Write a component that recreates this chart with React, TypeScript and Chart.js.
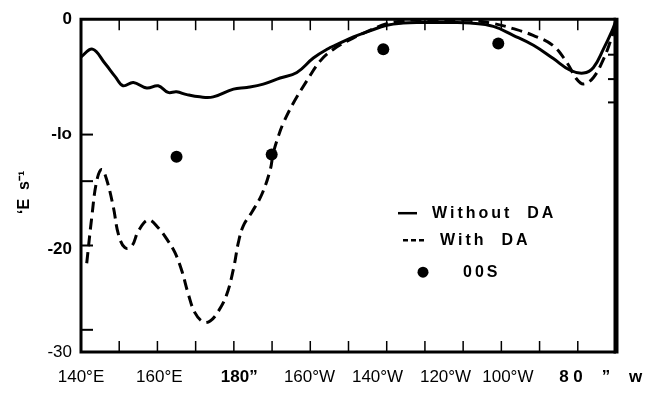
import React, { useEffect, useRef } from "react";
import { Chart, registerables } from "chart.js";

Chart.register(...registerables);

// Longitude in degrees east (140°E .. 280°E = 80°W), values in the y-axis units
const solidLon = [140, 143, 146.3, 149, 151, 153.7, 157.2, 160.2, 162.8, 165, 167.7, 171.1, 174.6, 179.9, 183.4, 187.7, 192.1, 196.5, 200.8, 205.2, 206.9, 211.3, 215.6, 220, 224.3, 228.7, 237.4, 241.8, 247.9, 253.1, 258.4, 263.6, 268, 271.5, 274.1, 276.7, 278.9, 280];
const solidVal = [-3.4, -2.7, -4.0, -5.2, -6.0, -5.7, -6.2, -6.0, -6.6, -6.55, -6.8, -7.0, -7.0, -6.3, -6.15, -5.85, -5.3, -4.8, -3.5, -2.55, -2.3, -1.6, -1.05, -0.55, -0.35, -0.3, -0.3, -0.35, -0.65, -1.45, -2.35, -3.55, -4.6, -4.85, -4.35, -2.7, -1.1, -0.1];

const dashedLon = [141.5, 142.8, 144.1, 145.4, 146.7, 148.5, 149.8, 151.5, 153.3, 155.0, 157.6, 160.2, 162.8, 164.6, 166.4, 168.1, 169.8, 172.0, 173.8, 175.9, 178.1, 179.9, 181.2, 182.5, 184.7, 187.3, 189.5, 190.3, 191.6, 192.9, 195.5, 199.1, 202.5, 205.9, 211.2, 215.6, 220, 224.3, 228.7, 241.8, 247.8, 253.1, 258.3, 263.5, 267.1, 269.7, 271.5, 274.1, 276.7, 278.4, 279.8];
const dashedVal = [-22.0, -17.9, -14.6, -13.55, -14.45, -17.0, -19.4, -20.6, -20.45, -19.1, -18.1, -18.8, -20.0, -21.05, -22.7, -24.8, -26.45, -27.3, -27.2, -26.35, -24.85, -22.5, -20.1, -18.6, -17.4, -15.8, -13.6, -12.1, -10.6, -9.4, -7.6, -5.55, -3.8, -2.75, -1.7, -1.0, -0.4, -0.15, -0.05, -0.1, -0.38, -0.85, -1.46, -2.37, -3.88, -5.39, -5.84, -5.25, -3.62, -2.13, -0.6];

const oosLon = [165.0, 189.9, 219.1, 249.2];
const oosVal = [-12.4, -12.2, -2.7, -2.2];

const xTickValues = [140, 160.5, 181.4, 199.8, 217.6, 235.4, 251.7, 276];
const xTickLabels = ["140°E", "160°E", "180”", "160°W", "140°W", "120°W", "100°W", "8 0    ”    w"];
const yTickValues = [0, -10.4, -20.7, -30];
const yTickLabels = ["0", "-lo", "-20", "-30"];
const frameTickLon = [150, 160, 170, 180, 190, 200, 210, 220, 230, 240, 250, 260, 270];
const leftTickVals = [-10.4, -14.6, -20.4, -28];
const rightTickVals = [-3.2, -5.4, -7.5];
const legendLabels = ["Without  DA", "With  DA", "00S"];
const yTitle = "‘E  s⁻¹   ";

const FONT = "'Liberation Sans', Arial, Helvetica, sans-serif";

const framePlugin = {
  id: "frame",
  afterDatasetsDraw(chart: any) {
    const { ctx, chartArea: a, scales } = chart;
    const x = scales.x;
    const y = scales.y;
    ctx.save();
    ctx.strokeStyle = "#000";
    ctx.lineCap = "butt";
    ctx.lineWidth = 1.5;
    frameTickLon.forEach((v) => {
      const px = x.getPixelForValue(v);
      ctx.beginPath();
      ctx.moveTo(px, a.bottom);
      ctx.lineTo(px, a.bottom - 11);
      ctx.moveTo(px, a.top);
      ctx.lineTo(px, a.top + 11);
      ctx.stroke();
    });
    ctx.lineWidth = 2;
    leftTickVals.forEach((v) => {
      const py = y.getPixelForValue(v);
      ctx.beginPath();
      ctx.moveTo(a.left, py);
      ctx.lineTo(a.left + 12, py);
      ctx.stroke();
    });
    rightTickVals.forEach((v) => {
      const py = y.getPixelForValue(v);
      ctx.beginPath();
      ctx.moveTo(a.right, py);
      ctx.lineTo(a.right - 8, py);
      ctx.stroke();
    });
    ctx.lineWidth = 3;
    ctx.beginPath();
    ctx.moveTo(a.left - 1.5, a.top);
    ctx.lineTo(a.right, a.top);
    ctx.moveTo(a.left - 1.5, a.bottom);
    ctx.lineTo(a.right, a.bottom);
    ctx.moveTo(a.left, a.top);
    ctx.lineTo(a.left, a.bottom);
    ctx.stroke();
    ctx.lineWidth = 5;
    ctx.beginPath();
    ctx.moveTo(a.right, a.top - 1.5);
    ctx.lineTo(a.right, a.bottom + 1.5);
    ctx.stroke();
    ctx.restore();
  },
};

const legendPlugin = {
  id: "insideLegend",
  afterDraw(chart: any) {
    const { ctx, chartArea: a } = chart;
    const lx = a.left + 316;
    const r1 = a.top + 194;
    const r2 = a.top + 221;
    const r3 = a.top + 253;
    ctx.save();
    ctx.strokeStyle = "#000";
    ctx.fillStyle = "#000";
    ctx.lineWidth = 2.5;
    ctx.beginPath();
    ctx.moveTo(lx + 1, r1);
    ctx.lineTo(lx + 20, r1);
    ctx.stroke();
    ctx.setLineDash([5, 3]);
    ctx.beginPath();
    ctx.moveTo(lx + 6, r2);
    ctx.lineTo(lx + 28, r2);
    ctx.stroke();
    ctx.setLineDash([]);
    ctx.beginPath();
    ctx.arc(lx + 26, r3, 5.5, 0, Math.PI * 2);
    ctx.fill();
    ctx.font = `bold 16px ${FONT}`;
    (ctx as any).letterSpacing = "3px";
    ctx.textBaseline = "middle";
    ctx.textAlign = "left";
    ctx.fillText(legendLabels[0], lx + 35, r1);
    ctx.fillText(legendLabels[1], lx + 43, r2);
    ctx.fillText(legendLabels[2], lx + 66, r3);
    ctx.restore();
  },
};

export default function App() {
  const ref = useRef<HTMLCanvasElement | null>(null);
  useEffect(() => {
    if (!ref.current) return;
    const chart = new Chart(ref.current, {
      type: "line",
      data: {
        datasets: [
          {
            label: legendLabels[0],
            data: solidLon.map((x, i) => ({ x, y: solidVal[i] })),
            borderColor: "#000",
            borderWidth: 3,
            pointRadius: 0,
            tension: 0.4,
            fill: false,
            clip: 6,
          },
          {
            label: legendLabels[1],
            data: dashedLon.map((x, i) => ({ x, y: dashedVal[i] })),
            borderColor: "#000",
            borderWidth: 3,
            borderDash: [11, 6],
            pointRadius: 0,
            tension: 0.4,
            fill: false,
            clip: 6,
          },
          {
            label: legendLabels[2],
            data: oosLon.map((x, i) => ({ x, y: oosVal[i] })),
            showLine: false,
            pointRadius: 6,
            pointBackgroundColor: "#000",
            pointBorderColor: "#000",
            pointBorderWidth: 0,
            clip: 8,
          },
        ],
      } as any,
      options: {
        animation: false,
        responsive: false,
        events: [],
        layout: { padding: { left: 0, top: 17, right: 29, bottom: 0 } },
        plugins: { legend: { display: false }, tooltip: { enabled: false } },
        scales: {
          x: {
            type: "linear",
            min: 140,
            max: 280,
            grid: { display: false, drawTicks: false },
            border: { display: false },
            afterBuildTicks: (s: any) => {
              s.ticks = xTickValues.map((v) => ({ value: v }));
            },
            afterFit: (s: any) => {
              s.height = 41;
              s.paddingLeft = 0;
              s.paddingRight = 0;
            },
            ticks: {
              autoSkip: false,
              maxRotation: 0,
              minRotation: 0,
              padding: 15,
              color: "#000",
              callback: (_v: any, i: number) => xTickLabels[i],
              font: (c: any) => ({
                family: FONT,
                size: 17,
                weight: c.index === 2 || c.index === 7 ? "bold" : "normal",
              }),
            },
          },
          y: {
            type: "linear",
            min: -30,
            max: 0,
            grid: { display: false, drawTicks: false },
            border: { display: false },
            afterBuildTicks: (s: any) => {
              s.ticks = yTickValues.map((v) => ({ value: v }));
            },
            afterFit: (s: any) => {
              s.width = 81;
            },
            ticks: {
              autoSkip: false,
              padding: 9,
              color: "#000",
              callback: (_v: any, i: number) => yTickLabels[i],
              font: (c: any) => ({
                family: FONT,
                size: 17,
                weight: c.index === 3 ? "normal" : "bold",
              }),
            },
            title: {
              display: true,
              text: yTitle,
              color: "#000",
              font: { family: FONT, size: 16, weight: "bold" },
              padding: { top: 15, bottom: 0 },
            },
          },
        },
      } as any,
      plugins: [framePlugin, legendPlugin],
    });
    return () => chart.destroy();
  }, []);
  return (
    <div style={{ position: "fixed", left: 0, top: 0, width: 645, height: 393, background: "#fff" }}>
      <canvas ref={ref} width={645} height={393} style={{ display: "block" }} />
    </div>
  );
}
